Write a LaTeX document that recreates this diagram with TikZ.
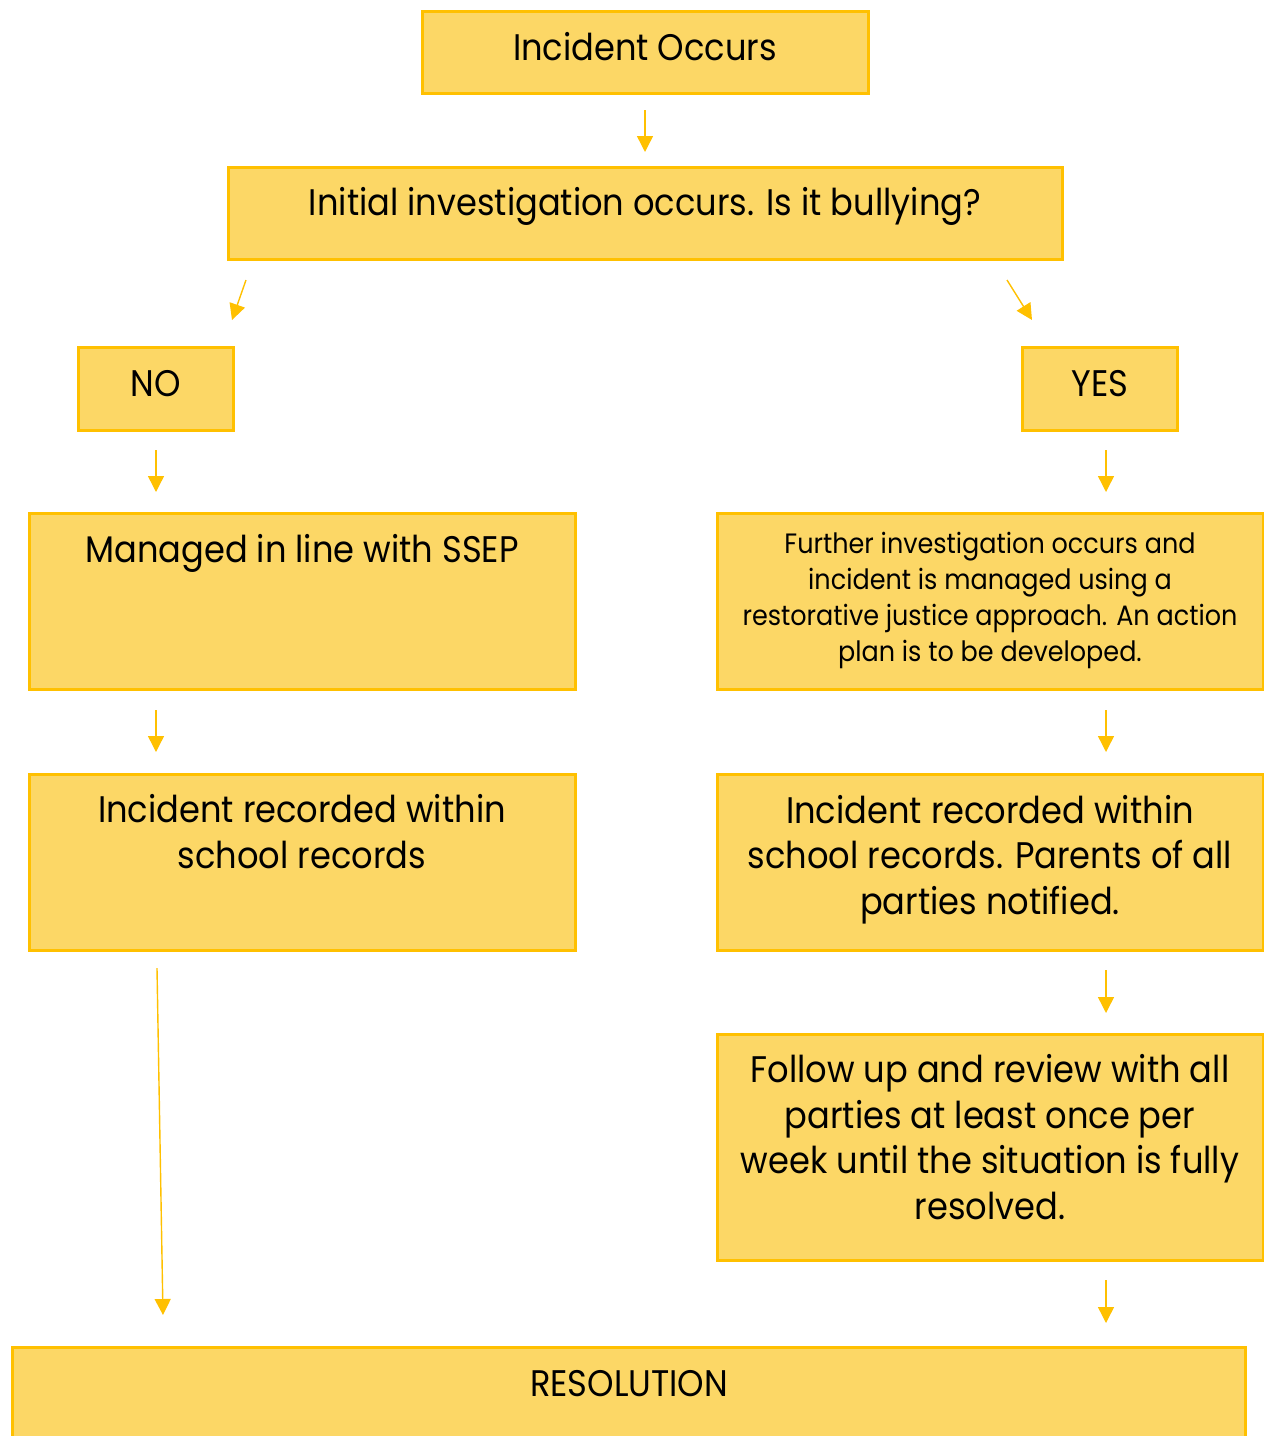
\documentclass[tikz,border=0pt]{standalone}
\usepackage{fontspec}
\setmainfont{Poppins}[FakeStretch=0.91]
\usetikzlibrary{arrows.meta}
\definecolor{boxfill}{HTML}{FCD766}
\definecolor{boxline}{HTML}{FFC000}
\tikzset{
  box/.style={draw=boxline, fill=boxfill, line width=1.5pt, inner sep=0pt, outer sep=0pt, rectangle},
  big/.style={font=\fontsize{18.5}{22.75}\selectfont, align=center, inner sep=0pt, anchor=base, text=black},
  small/.style={font=\fontsize{14}{18}\selectfont, align=center, inner sep=0pt, anchor=base, text=black},
  arr/.style={draw=boxline, line width=0.7pt, -{Triangle[width=8pt,length=8pt]}},
}
\begin{document}
\begin{tikzpicture}[x=0.5pt,y=-0.5pt]
\clip (0,0) rectangle (1264,1436);
\useasboundingbox (0,0) rectangle (1264,1436);
% boxes
\node[box, minimum width=223pt, minimum height=41pt] (inc) at (645,52) {};
\node[box, minimum width=417pt, minimum height=46pt] (init) at (645,213) {};
\node[box, minimum width=77.5pt, minimum height=41.5pt] (no) at (155.5,388.5) {};
\node[box, minimum width=77.5pt, minimum height=41.5pt] (yes) at (1099.5,388.5) {};
\node[box, minimum width=273pt, minimum height=88pt] (managed) at (302,601) {};
\node[box, minimum width=273pt, minimum height=88pt] (further) at (990,601) {};
\node[box, minimum width=273pt, minimum height=88pt] (recl) at (302,862) {};
\node[box, minimum width=273pt, minimum height=88pt] (recr) at (990,862) {};
\node[box, minimum width=273pt, minimum height=113pt] (follow) at (990,1147) {};
\node[box, minimum width=616.5pt, minimum height=63pt] (res) at (628.5,1410) {};
% texts (anchor base = baseline of last line)
\node[big] (tinc) at (645,60) {Incident Occurs};
\node[big] (tinit) at (645,215) {Initial investigation occurs. Is it bullying?};
\node[big] (tno) at (156,396) {NO};
\node[big] (tyes) at (1100,396) {YES};
\node[big] (tman) at (302,562) {Managed in line with SSEP};
\node[small] (tfur) at (990,661) {Further investigation occurs and\\incident is managed using a\\restorative justice approach. An action\\plan is to be developed.};
\node[big] (trecl) at (302,868) {Incident recorded within\\school records};
\node[big] (trecr) at (990,914) {Incident recorded within\\school records. Parents of all\\parties notified.};
\node[big] (tfol) at (990,1219) {Follow up and review with all\\parties at least once per\\week until the situation is fully\\resolved.};
\node[big] (tres) at (629,1396) {RESOLUTION};
% column coordinates
\coordinate (lx) at (156,0);
\coordinate (rx) at (1106,0);
\coordinate (d1s) at (246,280);
\coordinate (d1e) at (232,320);
\coordinate (d2s) at (1007,280);
\coordinate (d2e) at (1032,320);
\coordinate (ls) at (157,968);
\coordinate (le) at (163,1315);
% arrows
\draw[arr, shorten <=8.5pt, shorten >=7.5pt] (inc.south) -- (init.north);
\draw[arr] (d1s) -- (d1e);
\draw[arr] (d2s) -- (d2e);
\draw[arr, shorten <=10pt, shorten >=10.5pt] (no.south -| lx) -- (managed.north -| lx);
\draw[arr, shorten <=10pt, shorten >=10.5pt] (yes.south -| rx) -- (further.north -| rx);
\draw[arr, shorten <=10.5pt, shorten >=11pt] (managed.south -| lx) -- (recl.north -| lx);
\draw[arr, shorten <=10.5pt, shorten >=11pt] (further.south -| rx) -- (recr.north -| rx);
\draw[arr] (ls) -- (le);
\draw[arr, shorten <=10pt, shorten >=10.5pt] (recr.south -| rx) -- (follow.north -| rx);
\draw[arr, shorten <=10pt, shorten >=12pt] (follow.south -| rx) -- (res.north -| rx);
\end{tikzpicture}
\end{document}
